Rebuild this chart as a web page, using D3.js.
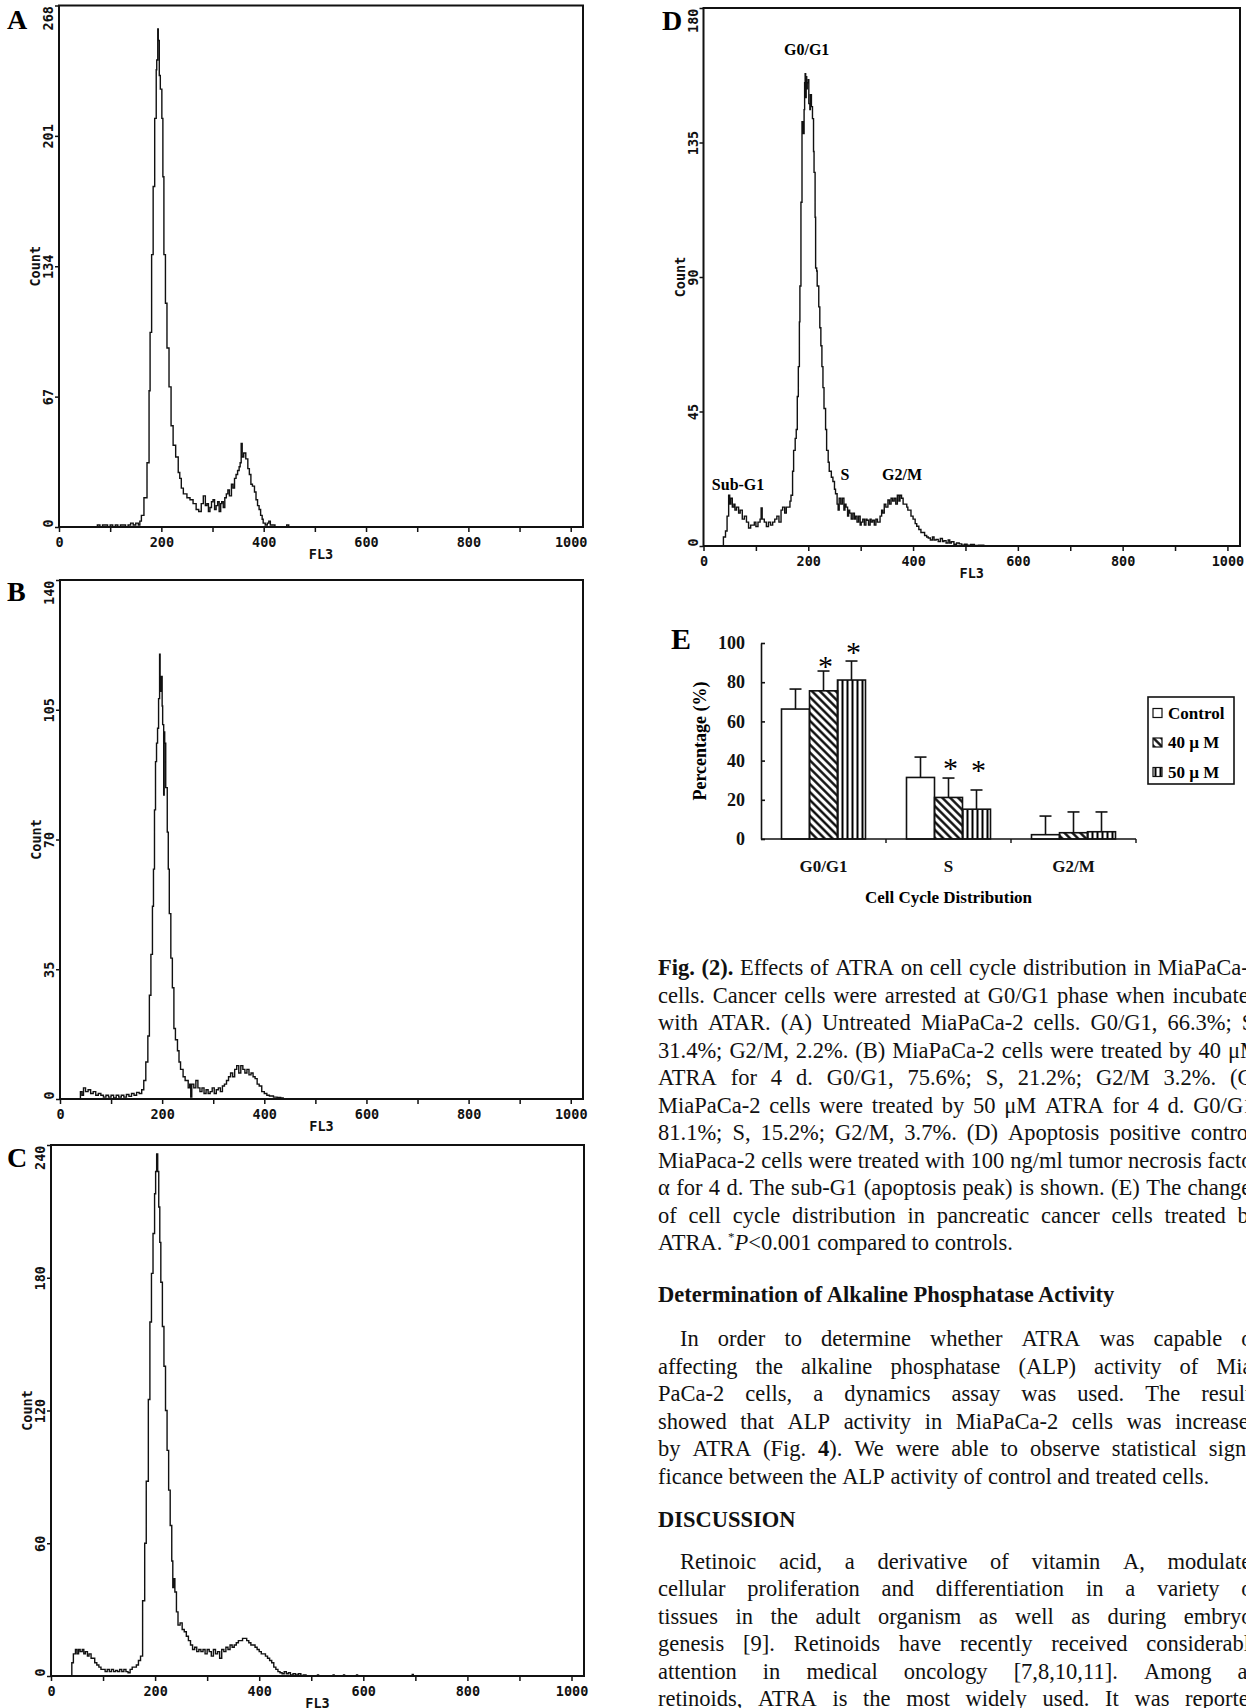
<!DOCTYPE html>
<html>
<head>
<meta charset="utf-8">
<script src="https://cdn.jsdelivr.net/npm/d3@7"></script>
<style>
  body { margin: 0; background: #fff; }
  svg { display: block; }
</style>
</head>
<body>
<div id="fig"></div>
<script>
// ---- histogram readings: [FL3 channel, count] ----
var histA = [[70,0],[75,1],[80,0],[85,1],[90,1],[95,0],[100,1],[105,0],[110,1],[115,0],[120,1],[125,1],[130,0],[135,1],[140,2],[145,1],[150,2],[155,1],[158,3],
  [161,6],[166,15],[172,33],[176,70],[178,100],[181,140],[184,175],[187,210],[190,235],[191,240],[193,256],[194,250],[196,232],[198,225],[201,210],[203,180],[205,140],[208,115],[211,92],[215,72],[219,52],[223,42],[228,36],[233,28],[236,25],[239,20],[243,17],
  [250,15],[256,14],[262,12],[268,9],[273,8],[278,12],[282,16],[286,11],[289,12],[292,8],[295,10],[298,13],[301,14],[304,9],[307,11],[310,13],[313,8],[316,12],[318,13],[321,10],[324,15],[327,17],[330,19],[333,16],[337,22],[340,20],[343,25],[346,27],[349,29],[352,31],[354,33],[356,43],[358,36],[361,38],[365,35],[369,30],[372,27],[375,22],[378,21],[382,18],[385,14],[388,11],[391,9],[394,6],[397,4],[399,2],[403,1],[407,2],[410,3],[413,1],[416,1],[422,0],[428,0],[445,1],[449,0]];

var histB = [[35,0],[40,2],[43,1],[46,3],[50,2],[55,2.5],[60,1.5],[65,2],[70,1],[75,1.5],[80,1],[85,0.5],[90,1],[95,0.5],[100,1],[105,0.3],[110,1],[115,0.5],[120,1],[125,0.5],[130,1.2],[135,0.7],[140,1.5],[145,1],[150,1.8],[155,1.5],[160,2.5],
  [164,5],[168,10],[172,17],[175,28],[178,39],[181,52],[183,62],[185,78],[187,91],[189,96],[191,100],[193,108],[195,120],[196,110],[198,114],[200,106],[201,101],[203,82],[204,99],[205,96],[207,84],[210,72],[212,62],[214,50],[217,38],[220,30],[223,19],[226,16],[230,13],[233,10],[236,8],[241,6],[245,5],[248,5],[251,3],
  [254,4],[256,0.5],[258,4],[262,3],[266,5],[270,3],[274,2],[278,3],[282,1.5],[286,2.5],[290,1.5],[294,2],[298,3],[302,1.5],[306,2.5],[310,3],[314,2],[318,3.5],[322,4],[326,5],[330,6],[334,7],[338,6],[342,8],[346,9],[350,7],[354,9],[358,8],[362,7],[366,8],[370,6.5],[374,7],[378,6],[382,5.5],[386,4],[390,3.5],[395,2],[400,1.5],[405,1],[410,0.8],[418,0.5],[425,0.4],[432,0.3],[437,0]];

var histC = [[38,0],[40,6],[43,10],[47,12],[50,10],[53,12],[56,11],[60,12],[63,10],[66,11],[70,9],[73,10],[77,8],[80,8],[84,6],[88,5],[92,4],[96,3],[100,3],[104,2],[108,3],[112,2],[116,3],[120,2],[124,2.5],[128,2],[132,3],[136,2],[140,3],[144,2],[148,1.5],[152,3],[156,4],[160,4],[164,5],[168,7],[172,9],
  [176,34],[180,60],[183,88],[187,125],[190,160],[193,182],[196,200],[199,218],[201,228],[203,236],[205,228],[207,212],[209,196],[211,178],[214,158],[217,140],[220,120],[223,102],[226,84],[229,68],[232,52],[234,40],[236,44],[238,38],[241,29],[244,23],[248,24],[252,21],[256,20],[260,18],[264,16],[268,14],[272,12],[276,13],
  [280,11],[284,12],[288,11],[292,12],[296,10],[300,12],[304,11],[308,9],[312,12],[316,10],[320,11],[324,8],[328,12],[332,11],[336,13],[340,12],[344,14],[348,13],[352,14],[356,15],[360,16],[364,16],[368,17],[372,17],[376,16],[380,15],[384,14],[388,14],[392,13],[396,12],[400,11],[404,10],[408,10],[412,9],[416,8],[420,7],[424,6],[428,4],[432,3],[436,2],[440,1.5],[444,1],[448,2],[452,1],[456,1.5],[460,0.5],[465,1],[470,0.5],[475,1],[480,0.3],[485,0.5],[490,0],
  [510,0],[512,0.5],[514,0],[540,0],[542,0.5],[544,0],[560,0],[562,0.5],[564,0],[585,0],[587,0.5],[589,0],[692,0],[694,0.7],[696,0]];

var histD = [[36,0],[38,3],[42,5],[45,10],[48,17],[50,14],[52,16],[55,13],[58,14],[60,12],[63,13],[67,11],[70,12],[74,9],[78,10],[82,8],[86,6],[90,7],[93,7],[97,8],[100,6.5],[104,8],[108,9],[110,12.7],[112,9],[116,8],[120,6.5],[124,8],[128,7],[132,8],[136,9],[140,10],[144,8],[148,12],[151,13],[155,11],[158,13],[162,13],[165,15],[167,17],
  [170,25],[172,32],[175,36],[177,39],[179,50],[181,60],[183,75],[184,87],[186,115],[188,142],[190,138],[192,146],[193,155],[194,158],[195,150],[196,157],[197,153],[198,155],[200,156],[201,148],[203,146],[204,151],[206,147],[208,143],[210,132],[211,125],[213,110],[214,93],[216,92],[217,87],[220,80],[222,73],[224,67],[226,60],[228,53],[230,46],[233,39],[235,32],[238,28],[240,25],[244,23],[247,21.6],[250,19],[252,17.5],[255,14],[257,12],
  [259,16],[262,14],[265,16],[268,12],[270,14],[272,13],[275,10],[277,12],[279,11],[282,9],[285,11],[288,9],[290,10],[293,8],[296,10],[299,7],[301,8],[304,9],[307,7],[310,9],[312,8.6],[315,7],[318,9],[320,8],[323,8.6],[326,7],[329,9],[332,8],[334,8],[337,10],[340,12],[342,11],[345,14],[348,13],[352,15.4],[355,14],[358,16],[361,15],[364,16],[367,14],[370,17],[373,15],[375,17],[378,16],[381,14],[385,14],[388,13],[390,12],[393,12],[396,10],[400,9],[404,7.5],[407,6.6],[411,5.5],[415,4.5],[418,4.5],[422,3.5],[426,3],[429,2.7],[433,2],[437,3],[440,2],[444,2.2],[448,1.5],[452,2.5],[456,1.5],[459,1.8],[463,1],[467,2],[470,1],[473,1.4],[478,0.6],[483,1],[488,0.7],[493,0.3],[498,0.6],[503,0.3],[510,0.5],[517,0.2],[525,0.3],[535,0]];

var ticksA = [0, 67, 134, 201, 268];
var ticksB = [0, 35, 70, 105, 140];
var ticksC = [0, 60, 120, 180, 240];
var ticksD = [0, 45, 90, 135, 180];
var fl3Ticks = [0, 100, 200, 300, 400, 500, 600, 700, 800, 900, 1000];

// phase labels in panel D: [text, channel, count]
var dLabels = [["G0/G1", 197, 166], ["Sub-G1", 66, 20.5], ["S", 270, 23.8], ["G2/M", 379, 23.8]];

// ---- panel E ----
var phases = ["G0/G1", "S", "G2/M"];
var treatments = ["Control", "40 \u00b5 M", "50 \u00b5 M"];
var pctControl = [66.3, 31.4, 2.2];
var pct40 = [75.6, 21.2, 3.2];
var pct50 = [81.1, 15.2, 3.7];
var errControl = [10.2, 10.4, 9.5];
var err40 = [10.1, 9.9, 10.6];
var err50 = [9.7, 9.8, 10.1];
var star40 = [91, 39, null];
var star50 = [98, 38, null];
var pctTicks = [0, 20, 40, 60, 80, 100];

var W = 1246, H = 1708;
var svg = d3.select("#fig").append("svg").attr("width", W).attr("height", H);

var defs = svg.append("defs");
defs.append("pattern").attr("id", "hDiag").attr("patternUnits", "userSpaceOnUse")
    .attr("width", 5.6).attr("height", 5.6).attr("patternTransform", "rotate(-45)")
  .append("line").attr("x1", 1.4).attr("x2", 1.4).attr("y1", -1).attr("y2", 7)
    .attr("stroke", "#000").attr("stroke-width", 2.3);
defs.append("pattern").attr("id", "hVert").attr("patternUnits", "userSpaceOnUse")
    .attr("width", 5).attr("height", 5)
  .append("line").attr("x1", 2.5).attr("x2", 2.5).attr("y1", 0).attr("y2", 5)
    .attr("stroke", "#000").attr("stroke-width", 2);

var mono = "'DejaVu Sans Mono', 'Liberation Mono', monospace";
var serif = "'Liberation Serif', 'Times New Roman', serif";

function histPanel(p) {
  var x = d3.scaleLinear().domain([0, 1024]).range([p.left, p.right]);
  var y = d3.scaleLinear().domain([0, p.ymax]).range([p.bottom, p.top]);
  var g = svg.append("g");

  g.append("path")
      .datum(p.data)
      .attr("fill", "none")
      .attr("stroke", "#111")
      .attr("stroke-width", 1.4)
      .attr("d", d3.line().x(d => x(d[0])).y(d => y(d[1])).curve(d3.curveStepAfter));

  var xa = g.append("g")
      .attr("transform", "translate(0," + p.bottom + ")")
      .call(d3.axisBottom(x).tickValues(fl3Ticks).tickSize(5)
            .tickFormat(d => d % 200 === 0 ? d : ""));
  xa.select(".domain").remove();
  xa.selectAll("line").attr("stroke", "#111").attr("stroke-width", 1.5);
  xa.selectAll("text").attr("y", 10)
      .attr("font-family", mono).attr("font-weight", "bold").attr("font-size", 13.5).attr("fill", "#111");

  var ya = g.append("g")
      .attr("transform", "translate(" + p.left + ",0)")
      .call(d3.axisLeft(y).tickValues(p.ticks).tickSize(4));
  ya.select(".domain").remove();
  ya.selectAll("line").attr("stroke", "#111").attr("stroke-width", 1.5);
  ya.selectAll("text")
      .attr("transform", "rotate(-90)")
      .attr("x", 0).attr("y", -11).attr("dy", null)
      .attr("dominant-baseline", "central")
      .attr("text-anchor", (d, i) => i === 0 ? "start" : (i === p.ticks.length - 1 ? "end" : "middle"))
      .attr("font-family", mono).attr("font-weight", "bold").attr("font-size", 13.5).attr("fill", "#111");

  g.append("text")
      .attr("transform", "translate(" + (p.left - 24) + "," + y(p.ticks[2]) + ") rotate(-90)")
      .attr("text-anchor", "middle").attr("dominant-baseline", "central")
      .attr("font-family", mono).attr("font-weight", "bold").attr("font-size", 13.5).attr("fill", "#111")
      .text("Count");

  g.append("text")
      .attr("x", (p.left + p.right) / 2).attr("y", p.bottom + 27)
      .attr("text-anchor", "middle").attr("dominant-baseline", "central")
      .attr("font-family", mono).attr("font-weight", "bold").attr("font-size", 13.5).attr("fill", "#111")
      .text("FL3");

  g.append("rect")
      .attr("x", p.left).attr("y", p.top)
      .attr("width", p.right - p.left).attr("height", p.bottom - p.top)
      .attr("fill", "none").attr("stroke", "#111").attr("stroke-width", 2);

  g.append("text")
      .attr("x", p.lx).attr("y", p.ly)
      .attr("font-family", serif).attr("font-weight", "bold").attr("font-size", 28)
      .text(p.letter);

  return {x: x, y: y, g: g};
}

histPanel({data: histA, ticks: ticksA, ymax: 268, left: 59, right: 583, top: 5.5, bottom: 527, letter: "A", lx: 7, ly: 29});
histPanel({data: histB, ticks: ticksB, ymax: 140, left: 60, right: 583, top: 580, bottom: 1099, letter: "B", lx: 7, ly: 601});
histPanel({data: histC, ticks: ticksC, ymax: 240, left: 51, right: 584, top: 1145, bottom: 1676, letter: "C", lx: 7, ly: 1167});
var pd = histPanel({data: histD, ticks: ticksD, ymax: 180, left: 703.5, right: 1240, top: 8, bottom: 546, letter: "D", lx: 662, ly: 30});

pd.g.selectAll(".plabel")
  .data(dLabels)
  .join("text")
    .attr("x", d => pd.x(d[1])).attr("y", d => pd.y(d[2]))
    .attr("text-anchor", "middle").attr("dominant-baseline", "central")
    .attr("font-family", serif).attr("font-weight", "bold").attr("font-size", 16)
    .text(d => d[0]);

// ---- panel E: bar chart ----
var series = [pctControl, pct40, pct50];
var errs = [errControl, err40, err50];
var stars = [[null, null, null], star40, star50];
var fills = ["#fff", "url(#hDiag)", "url(#hVert)"];

var rows = [];
phases.forEach(function(ph, i) {
  treatments.forEach(function(t, j) {
    rows.push({phase: ph, trt: t, j: j, v: series[j][i], e: errs[j][i], star: stars[j][i]});
  });
});

var yE = d3.scaleLinear().domain([0, 100]).range([839, 643]);
var xE = d3.scaleBand().domain(phases).range([761, 1136]);
var xSub = d3.scaleBand().domain(treatments)
    .range([xE.bandwidth() / 2 - 42, xE.bandwidth() / 2 + 42]);

var gE = svg.append("g");

gE.selectAll(".bar")
  .data(rows)
  .join("rect")
    .attr("x", d => xE(d.phase) + xSub(d.trt))
    .attr("y", d => yE(d.v))
    .attr("width", xSub.bandwidth())
    .attr("height", d => yE(0) - yE(d.v))
    .attr("fill", d => fills[d.j])
    .attr("stroke", "#111").attr("stroke-width", 1.6);

var eb = gE.selectAll(".err").data(rows).join("g")
    .attr("transform", d => "translate(" + (xE(d.phase) + xSub(d.trt) + xSub.bandwidth() / 2) + ",0)");
eb.append("line").attr("x1", 0).attr("x2", 0)
    .attr("y1", d => yE(d.v)).attr("y2", d => yE(d.v + d.e))
    .attr("stroke", "#111").attr("stroke-width", 1.6);
eb.append("line").attr("x1", -6).attr("x2", 6)
    .attr("y1", d => yE(d.v + d.e)).attr("y2", d => yE(d.v + d.e))
    .attr("stroke", "#111").attr("stroke-width", 1.6);

gE.selectAll(".star")
  .data(rows.filter(d => d.star !== null))
  .join("text")
    .attr("x", d => xE(d.phase) + xSub(d.trt) + xSub.bandwidth() / 2 + 2)
    .attr("y", d => yE(d.star) + 15)
    .attr("text-anchor", "middle")
    .attr("font-family", serif).attr("font-size", 30)
    .text("*");

var yaE = gE.append("g")
    .attr("transform", "translate(" + xE.range()[0] + ",0)")
    .call(d3.axisLeft(yE).tickValues(pctTicks).tickSizeInner(-4).tickSizeOuter(0).tickPadding(16));
yaE.selectAll("path,line").attr("stroke", "#111").attr("stroke-width", 1.6);
yaE.selectAll("text").attr("font-family", serif).attr("font-weight", "bold").attr("font-size", 18).attr("fill", "#111");

var xaE = gE.append("g")
    .attr("transform", "translate(0," + yE(0) + ")")
    .call(d3.axisBottom(xE).tickSize(0).tickPadding(21));
xaE.select(".domain").remove();
xaE.selectAll("text").attr("font-family", serif).attr("font-weight", "bold").attr("font-size", 17).attr("fill", "#111");

gE.append("line")
    .attr("x1", xE.range()[0]).attr("x2", xE.range()[1])
    .attr("y1", yE(0)).attr("y2", yE(0))
    .attr("stroke", "#111").attr("stroke-width", 1.6);
gE.selectAll(".ctick")
  .data(phases.slice(1).map(p => xE(p)).concat([xE.range()[1]]))
  .join("line")
    .attr("x1", d => d).attr("x2", d => d)
    .attr("y1", yE(0)).attr("y2", yE(0) + 4)
    .attr("stroke", "#111").attr("stroke-width", 1.4);

gE.append("text")
    .attr("transform", "translate(700," + ((yE(0) + yE(100)) / 2) + ") rotate(-90)")
    .attr("text-anchor", "middle").attr("dominant-baseline", "central")
    .attr("font-family", serif).attr("font-weight", "bold").attr("font-size", 18)
    .text("Percentage (%)");

gE.append("text")
    .attr("x", (xE.range()[0] + xE.range()[1]) / 2).attr("y", 897)
    .attr("text-anchor", "middle").attr("dominant-baseline", "central")
    .attr("font-family", serif).attr("font-weight", "bold").attr("font-size", 17)
    .text("Cell Cycle Distribution");

gE.append("text")
    .attr("x", 671).attr("y", 649)
    .attr("font-family", serif).attr("font-weight", "bold").attr("font-size", 30)
    .text("E");

// legend
var lg = gE.append("g").attr("transform", "translate(1148,697)");
lg.append("rect").attr("width", 86).attr("height", 87)
    .attr("fill", "#fff").attr("stroke", "#111").attr("stroke-width", 1.6);
var li = lg.selectAll(".li").data(treatments).join("g")
    .attr("transform", (d, i) => "translate(0," + (16 + i * 29.5) + ")");
li.append("rect").attr("x", 5).attr("y", -4.5).attr("width", 9).attr("height", 9)
    .attr("fill", (d, i) => fills[i]).attr("stroke", "#111").attr("stroke-width", 1.2);
li.append("text").attr("x", 20).attr("y", 0)
    .attr("dominant-baseline", "central")
    .attr("font-family", serif).attr("font-weight", "bold").attr("font-size", 17)
    .text(d => d);

// ---- caption and body text (right column, cropped at the page edge) ----
var textL = 658, textR = 1260, fs = 22.5;
var tg = svg.append("g").attr("font-family", serif).attr("font-size", fs).attr("fill", "#111");

var bold = false;
function putLine(str, yc, justify, indent) {
  var words = str.split(" ");
  var nodes = words.map(function(w) {
    var t = tg.append("text").attr("y", yc + 7);
    w.split("**").forEach(function(part, k, arr) {
      if (part) t.append("tspan").attr("font-weight", bold ? "bold" : "normal").text(part);
      if (k < arr.length - 1) bold = !bold;
    });
    return t;
  });
  var widths = nodes.map(n => n.node().getComputedTextLength());
  var sum = d3.sum(widths);
  var x0 = textL + (indent || 0);
  var gap = fs * 0.25;
  if (justify && nodes.length > 1) gap = Math.max(3, (textR - x0 - sum) / (nodes.length - 1));
  var x = x0;
  nodes.forEach(function(n, i) {
    if (x >= W) n.remove(); else n.attr("x", x);
    x += widths[i] + gap;
  });
}

var caption = [
  "**Fig. (2).** Effects of ATRA on cell cycle distribution in MiaPaCa-2",
  "cells. Cancer cells were arrested at G0/G1 phase when incubated",
  "with ATAR. (A) Untreated MiaPaCa-2 cells. G0/G1, 66.3%; S,",
  "31.4%; G2/M, 2.2%. (B) MiaPaCa-2 cells were treated by 40 \u03bcM",
  "ATRA for 4 d. G0/G1, 75.6%; S, 21.2%; G2/M 3.2%. (C)",
  "MiaPaCa-2 cells were treated by 50 \u03bcM ATRA for 4 d. G0/G1,",
  "81.1%; S, 15.2%; G2/M, 3.7%. (D) Apoptosis positive control.",
  "MiaPaca-2 cells were treated with 100 ng/ml tumor necrosis factor",
  "\u03b1 for 4 d. The sub-G1 (apoptosis peak) is shown. (E) The changes",
  "of cell cycle distribution in pancreatic cancer cells treated by"
];
caption.forEach((s, i) => putLine(s, 968 + i * 27.5, true, 0));

var last = tg.append("text").attr("x", textL).attr("y", 968 + 10 * 27.5 + 7);
last.append("tspan").text("ATRA. ");
last.append("tspan").attr("font-size", 13).attr("dy", -9).text("*");
last.append("tspan").attr("font-style", "italic").attr("dy", 9).text("P");
last.append("tspan").text("<0.001 compared to controls.");

tg.append("text").attr("x", textL).attr("y", 1295 + 7).attr("font-weight", "bold")
    .text("Determination of Alkaline Phosphatase Activity");

var para1 = [
  "In order to determine whether ATRA was capable of",
  "affecting the alkaline phosphatase (ALP) activity of Mia-",
  "PaCa-2 cells, a dynamics assay was used. The results",
  "showed that ALP activity in MiaPaCa-2 cells was increased",
  "by ATRA (Fig. **4**). We were able to observe statistical signi-",
  "ficance between the ALP activity of control and treated cells."
];
para1.forEach((s, i) => putLine(s, 1339 + i * 27.6, i < para1.length - 1, i === 0 ? 22 : 0));

tg.append("text").attr("x", textL).attr("y", 1520 + 7).attr("font-weight", "bold")
    .text("DISCUSSION");

var para2 = [
  "Retinoic acid, a derivative of vitamin A, modulates",
  "cellular proliferation and differentiation in a variety of",
  "tissues in the adult organism as well as during embryo-",
  "genesis [9]. Retinoids have recently received considerable",
  "attention in medical oncology [7,8,10,11]. Among all",
  "retinoids, ATRA is the most widely used. It was reported"
];
para2.forEach((s, i) => putLine(s, 1562 + i * 27.4, true, i === 0 ? 22 : 0));
</script>
</body>
</html>
